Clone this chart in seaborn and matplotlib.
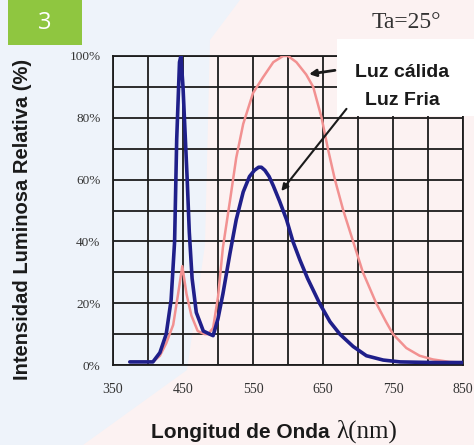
import matplotlib
matplotlib.use("Agg")
import matplotlib.pyplot as plt
from matplotlib.patches import Rectangle, Polygon
import seaborn as sns
import pandas as pd

# ---- data ----
fria_nm = [374, 407, 417, 426, 433, 438, 441, 445, 447, 450, 453, 456, 459, 463, 469,
           479, 488, 493, 500, 507, 517, 526, 536, 545, 552, 558, 562, 567, 573, 579, 588, 598,
           607, 617, 628, 645, 660, 674, 693, 712, 736, 760, 807, 850]
fria_pct = [1, 1, 4, 10, 21, 40, 73, 98, 100, 90, 75, 60, 43, 28, 17,
            11, 10, 9.5, 15, 23, 36, 47, 56, 61, 63, 64, 64, 63, 61, 58, 53, 47,
            40, 34, 28, 20, 14, 10, 6, 3, 1.6, 1, 0.8, 0.8]

calida_nm = [374, 407, 417, 426, 436, 443, 449, 455, 462, 471, 481, 486, 493, 500,
             507, 517, 526, 536, 550, 564, 579, 593, 600, 612, 626, 636, 648, 657,
             667, 679, 693, 707, 726, 740, 750, 769, 788, 807, 831, 850]
calida_pct = [1, 1, 3, 7, 13, 23, 32, 23, 16, 11, 10, 10, 12, 22,
              38, 53, 67, 78, 88, 93, 98, 100, 100, 98, 94, 90, 80, 70,
              60, 50, 40, 30, 20, 14, 10, 5.5, 3, 1.8, 1, 0.8]

x_ticks = [350, 450, 550, 650, 750, 850]
y_ticks = [0, 20, 40, 60, 80, 100]
y_tick_labels = ["0%", "20%", "40%", "60%", "80%", "100%"]

# ---- figure ----
sns.set_style("white")
plt.rcParams["font.family"] = ["Liberation Sans", "DejaVu Sans"]

fig = plt.figure(figsize=(4.74, 4.45), dpi=100, facecolor="#fcf2f2")
W, H = 474.0, 445.0

# background tint (bluish left region)
fig.patches.append(Polygon([(0, 0), (83 / W, 0), (187 / W, 75 / H), (205 / W, 200 / H),
                            (210 / W, 405 / H), (240 / W, 1), (0, 1)],
                           closed=True, transform=fig.transFigure,
                           facecolor="#eef3fa", edgecolor="none", zorder=-10))

ax = fig.add_axes([113 / W, 1 - 365 / H, 350 / W, 309 / H])
ax.set_facecolor("none")
ax.set_zorder(2)

df_f = pd.DataFrame({"nm": fria_nm, "pct": fria_pct})
df_c = pd.DataFrame({"nm": calida_nm, "pct": calida_pct})
sns.lineplot(data=df_c, x="nm", y="pct", ax=ax, color="#f29191", lw=1.8,
             sort=False, estimator=None, zorder=3)
sns.lineplot(data=df_f, x="nm", y="pct", ax=ax, color="#1f1f8a", lw=2.6,
             sort=False, estimator=None, zorder=4)
ax.set_xlabel("")

ax.set_xlim(350, 850)
ax.set_ylim(0, 100)
ax.set_xticks(range(350, 851, 50))
ax.set_yticks(range(0, 101, 10))
ax.grid(True, color="#1c1c1c", lw=1.3)
ax.set_axisbelow(True)
for s in ax.spines.values():
    s.set_color("#1c1c1c")
    s.set_linewidth(1.3)

# tick labels only at every 100 nm / 20 %
ax.set_xticklabels([str(v) if v in x_ticks else "" for v in range(350, 851, 50)],
                   fontfamily="Liberation Serif", fontsize=10, color="#333333")
ax.set_yticklabels([y_tick_labels[y_ticks.index(v)] if v in y_ticks else ""
                    for v in range(0, 101, 10)],
                   fontfamily="Liberation Serif", fontsize=9.5, color="#333333")
ax.tick_params(axis="both", length=0)
ax.tick_params(axis="x", pad=13)
ax.tick_params(axis="y", pad=9)

ax.set_ylabel("Intensidad Luminosa Relativa (%)", fontsize=14.5, fontweight="bold",
              color="#1a1a1a")
ax.yaxis.set_label_coords(-0.23, 0.47)

# x label: bold sans + serif lambda part
fig.text(330 / W, 1 - 433 / H, "Longitud de Onda", ha="right", va="center",
         fontsize=15, fontweight="bold", color="#1a1a1a")
fig.text(336 / W, 1 - 431 / H, "λ(nm)", ha="left", va="center",
         fontsize=18, fontfamily=["Liberation Serif", "DejaVu Serif"], color="#1a1a1a")

# white box with labels (upper right)
ax.add_patch(Rectangle((670, 80.6), 200, 25, facecolor="white", edgecolor="none",
                       zorder=5, clip_on=False))
ax.text(763, 94.5, "Luz cálida", ha="center", va="center", fontsize=14,
        fontweight="bold", color="#1a1a1a", zorder=6)
ax.text(764, 85.5, "Luz Fria", ha="center", va="center", fontsize=14,
        fontweight="bold", color="#1a1a1a", zorder=6)
ax.annotate("", xy=(626, 94), xytext=(671, 95.5),
            arrowprops=dict(arrowstyle="-|>", color="#1a1a1a", lw=2,
                            mutation_scale=10), zorder=7, annotation_clip=False)
ax.annotate("", xy=(588, 55.6), xytext=(686, 83.6),
            arrowprops=dict(arrowstyle="-|>", color="#1a1a1a", lw=1.5,
                            mutation_scale=10), zorder=7, annotation_clip=False)

# Ta=25° label
fig.text(406 / W, 1 - 22 / H, "Ta=25°", ha="center", va="center", fontsize=17,
         fontfamily=["Liberation Serif", "DejaVu Serif"], color="#333333")

# green number box
fig.patches.append(Rectangle((8 / W, 1 - 45 / H), 74 / W, 45 / H,
                             transform=fig.transFigure, facecolor="#8fc640",
                             edgecolor="none", zorder=1))
fig.text(45 / W, 1 - 23 / H, "3", ha="center", va="center", fontsize=17,
         fontfamily=["Open Sans", "DejaVu Sans"], color="white", zorder=2)

fig.savefig("out.png", dpi=100, facecolor=fig.get_facecolor())
